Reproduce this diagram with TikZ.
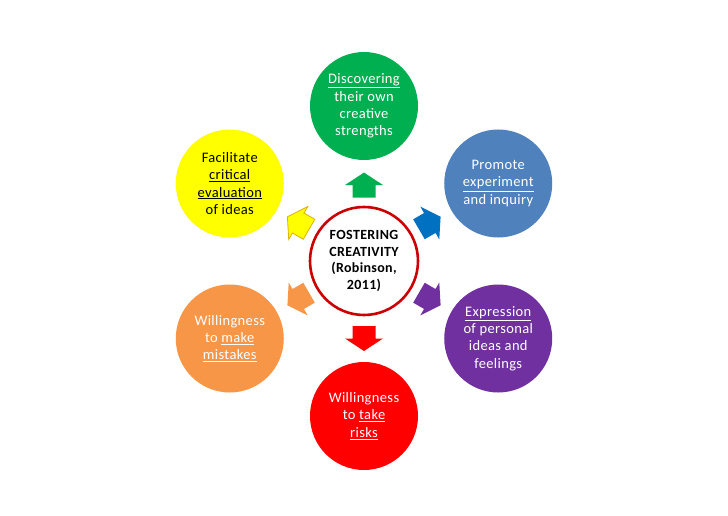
\documentclass[tikz,border=0pt]{standalone}
\usepackage{fontspec}
\setmainfont[LetterSpace=2.5]{Carlito}
\usetikzlibrary{calc}
\definecolor{cgreen}{RGB}{0,176,80}
\definecolor{cblue}{RGB}{79,129,189}
\definecolor{cbluearrow}{RGB}{0,112,192}
\definecolor{cpurple}{RGB}{112,48,160}
\definecolor{cred}{RGB}{255,0,0}
\definecolor{corange}{RGB}{247,150,70}
\definecolor{cyellow}{RGB}{255,255,0}
\definecolor{cyellowline}{RGB}{222,178,0}
\definecolor{cring}{RGB}{204,0,0}
\begin{document}
\begin{tikzpicture}[x=1pt,y=1pt,
  petal/.style={circle,minimum size=108pt,inner sep=0pt,align=center,text=white,
     font=\fontsize{14.5}{17.3}\selectfont},
  hub/.style={circle,minimum size=108pt,inner sep=0pt,align=center,draw=cring,line width=2.6pt,fill=white,
     font=\fontsize{14}{16.7}\selectfont\bfseries},
  barrow/.pic={\path[pic actions] (-12.5,-11.5) -- (0,-11.5) -- (0,-19) -- (12.5,0) -- (0,19) -- (0,11.5) -- (-12.5,11.5) -- cycle;}
]
\useasboundingbox (0,0) rectangle (728,515);
\fill[white] (0,0) rectangle (728,515);
\node[hub] (c) at (364,254) {FOSTERING\\CREATIVITY\\(Robinson,\\2011)};
\node[petal,fill=cgreen] (n1) at ($(c)+(90:155)$) {\underline{Discovering}\\their own\\creative\\strengths};
\node[petal,fill=cblue] (n2) at ($(c)+(30:155)$) {Promote\\\underline{experiment}\\and inquiry};
\node[petal,fill=cpurple] (n3) at ($(c)+(-30:155)$) {\underline{Expression}\\of personal\\ideas and\\feelings};
\node[petal,fill=cred] (n4) at ($(c)+(-90:155)$) {Willingness\\to \underline{take}\\\underline{risks}};
\node[petal,fill=corange] (n5) at ($(c)+(210:155)$) {Willingness\\to \underline{make}\\\underline{mistakes}};
\node[petal,fill=cyellow,text=black] (n6) at ($(c)+(150:155)$) {Facilitate\\\underline{critical}\\\underline{evaluation}\\of ideas};
\pic[fill=cgreen,rotate=90] at ($(c)!0.49!(n1)$) {barrow};
\pic[fill=cbluearrow,rotate=30] at ($(c)!0.49!(n2)$) {barrow};
\pic[fill=cpurple,rotate=-30] at ($(c)!0.49!(n3)$) {barrow};
\pic[fill=cred,rotate=-90] at ($(c)!0.5!(n4)$) {barrow};
\pic[fill=corange,rotate=210] at ($(c)!0.49!(n5)$) {barrow};
\pic[fill=cyellow,draw=cyellowline,line width=0.8pt,rotate=150] at ($(c)!0.49!(n6)$) {barrow};
\end{tikzpicture}
\end{document}
